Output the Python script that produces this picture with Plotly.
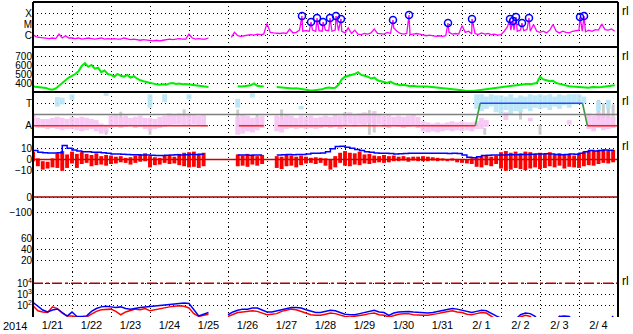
import pandas as pd
import plotly.graph_objects as go
from plotly.subplots import make_subplots

START = "2014-01-21 00:00"
END = "2014-02-05 00:00"

# ---------------- data ----------------
xray_log10 = [
    -5.9, -6.1, -6.15, -6.2, -6.2, -6.25, -6.2, -6.25, -5.85, -6.2, -6.0, -6.2,
    -6.2, -6.25, -6.2, -6.3, -6.25, -6.2, -6.25, -6.3, -6.25, -6.2, -6.3, -6.25,
    -6.3, -6.25, -6.3, -6.3, -6.2, -6.3, -6.35, -6.3, -6.35, -6.4, -6.35, -6.4,
    -6.4, -6.45, -6.4, -6.45, -6.4, -6.35, -6.3, -6.35, -6.3, -6.25, -6.3, -6.3,
    -5.85, -6.2, -6.3, -6.25, -6.3, -6.3, -6.2, None, None, None, None, None,
    None, -6.15, -5.7, -6.0, -6.05, -6.0, -5.95, -5.9, -5.95, -5.85, -5.9, -5.85,
    -4.9, -5.7, -5.75, -5.8, -5.8, -5.75, -5.8, -5.4, -5.75, -5.7, -5.5, -5.6,
    -5.55, -5.6, -5.5, -5.6, -5.55, -5.6, -5.5, -5.55, -5.6, -5.5, -5.55, -5.6,
    -5.75, -5.3, -5.8, -5.5, -5.85, -5.9, -5.8, -5.85, -5.75, -5.4, -5.8, -5.85,
    -5.85, -5.7, -5.8, -5.3, -5.6, -5.8, -5.85, -5.8, -5.9, -5.85, -5.8, -5.85,
    -5.9, -6.0, -5.95, -6.0, -6.05, -6.0, -6.05, -6.0, -5.7, -5.85, -5.8, -5.85,
    -5.1, -5.7, -5.6, -5.85, -5.8, -5.9, -5.75, -5.85, -5.8, -5.9, -5.85, -5.95,
    -5.9, -5.6, -5.2, -5.5, -5.5, -5.6, -5.5, -5.55, -5.45, -5.6, -5.0, -5.6,
    -5.7, -5.6, -5.75, -5.5, -5.0, -5.6, -5.75, -5.6, -5.7, -5.75, -5.6, -5.55,
    -5.5, -5.6, -5.65, -5.5, -5.6, -5.45, -5.5, -4.95, -5.45, -5.5, -5.4, -5.6,
]
flare_times = [
    "2014-01-27 21:32", "2014-01-28 03:05", "2014-01-28 06:46", "2014-01-28 10:28",
    "2014-01-28 14:46", "2014-01-28 18:28", "2014-01-28 21:32", "2014-01-30 05:32",
    "2014-01-30 15:23", "2014-01-31 15:23", "2014-02-01 06:09", "2014-02-02 05:32",
    "2014-02-02 07:23", "2014-02-02 09:14", "2014-02-02 12:55", "2014-02-02 17:14",
    "2014-02-04 00:37", "2014-02-04 03:05",
]
flare_log10 = [-4.24, -4.78, -4.42, -4.78, -4.42, -4.24, -4.51, -4.6, -4.16,
               -4.87, -4.51, -4.51, -4.69, -4.33, -4.87, -4.42, -4.33, -4.24]

speed = [
    360, 355, 358, 350, 345, 330, 325, 340, 370, 400, 435, 460,
    480, 500, 530, 590, 620, 580, 600, 560, 570, 520, 540, 500,
    490, 470, 500, 480, 470, 490, 460, 475, 450, 430, 420, 410,
    400, 390, 385, 380, 385, 380, 395, 400, 390, 395, 385, 390,
    385, 380, 375, 370, 365, 360, 355, None, None, None, None, None,
    None, None, None, 365, 360, 365, 370, 375, 395, 370, 365, 360,
    None, None, None, 355, 350, 345, 348, 340, 338, 342, 335, 330,
    325, 320, 318, 322, 320, 330, 345, 350, 345, 348, 380, 440,
    470, 480, 490, 500, 520, 490, 480, 470, 450, 460, 430, 420,
    410, 400, 415, 395, 385, 375, 380, 370, 365, 368, 360, 362,
    365, 360, 358, 355, 352, 348, 345, 340, 335, 330, 328, 325,
    320, 315, 312, 310, 315, 320, 325, 330, 335, 340, 345, 350,
    355, 360, 365, 370, 375, 372, 380, 385, 390, 385, 395, 400,
    470, 440, 430, 420, 425, 400, 390, 380, 370, 365, 360, 358,
    355, 350, 352, 348, 355, 350, 352, 355, 360, 358, 365, 375,
]

sector_times = ["2014-01-21 00:00", "2014-01-25 11:40", "2014-01-26 00:00",
                "2014-01-26 06:40", "2014-01-26 22:00", "2014-01-27 00:00",
                "2014-01-27 06:50", "2014-02-01 08:10", "2014-02-01 11:10",
                "2014-02-04 02:10", "2014-02-04 05:10", "2014-02-05 00:00"]
sector_vals = [-1, -1, None, -1, -1, None, -1, -1, 1, 1, -1, -1]

pink_lo = [
    -1.0, -1.2, -1.2, -1.3, -1.2, -1.3, -1.4, -1.3,
    -1.3, -1.4, -1.5, -1.4, -1.3, -1.5, -1.7, -1.6,
    -1.2, -1.1, -1.2, -1.1, -1.0, -1.2, -1.1, -1.3,
    -1.4, -1.3, -1.2, -1.1, -1.0, -0.9, -0.9, -1.0,
    -1.0, -0.9, -1.0, -1.1, None, None, None, None,
    None, None, -1.8, -1.7, -1.5, -1.6, -1.4, -1.2,
    None, None, -1.5, -1.6, -1.3, -1.2, -1.3, -1.2,
    -1.3, -1.2, -1.3, -1.2, -1.1, -1.2, -1.1, -1.3,
    -1.0, -0.9, -1.1, -0.9, -1.0, -0.8, -1.1, -0.9,
    -1.1, -1.2, -1.0, -1.1, -1.2, -1.1, -1.0, -1.2,
    -1.5, -1.6, -1.5, -1.6, -1.5, -1.4, -1.5, -1.4,
    -1.5, -1.4, -1.5, -1.3, -1.3, -1.1, None, None,
    None, -0.5, None, None, None, None, -0.6, None,
    None, None, None, None, None, None, -0.9, None,
    None, None, -1.3, -1.5, -1.2, -1.4, -1.3, -1.2,
]
pink_hi = [
    0.0, -0.3, -0.4, -0.4, -0.3, -0.2, -0.3, -0.4,
    -0.2, -0.3, -0.2, -0.3, -0.4, -0.5, -0.8, -0.9,
    -0.1, 0.0, -0.2, -0.1, -0.3, -0.2, -0.1, -0.3,
    -0.3, -0.4, -0.2, -0.1, 0.1, 0.0, 0.1, 0.0,
    0.1, 0.0, -0.1, 0.0, None, None, None, None,
    None, None, -0.2, 0.0, -0.1, -0.3, -0.2, -0.1,
    None, None, -0.1, -0.2, 0.0, -0.1, -0.3, -0.1,
    -0.2, -0.1, -0.3, -0.2, -0.1, -0.2, 0.0, -0.1,
    0.1, 0.2, 0.0, 0.1, 0.2, 0.1, 0.3, 0.0,
    -0.1, 0.0, -0.2, -0.1, -0.2, -0.1, 0.0, -0.2,
    -0.6, -0.7, -0.8, -0.7, -0.8, -0.7, -0.6, -0.7,
    -0.6, -0.7, -0.7, -0.6, -0.3, -0.5, None, None,
    None, 0.2, None, None, None, None, -0.3, None,
    None, None, None, None, None, None, -0.5, None,
    None, None, 0.1, -0.1, 0.2, 0.0, 0.1, -0.2,
]
lblue_times = [
    "2014-01-21 15:00", "2014-01-21 18:00", "2014-01-22 00:00", "2014-01-22 21:00",
    "2014-01-24 00:00", "2014-01-24 09:00", "2014-01-25 00:00", "2014-01-26 06:00",
    "2014-01-26 15:00", "2014-01-27 21:00",
    "2014-02-01 09:00", "2014-02-01 12:00", "2014-02-01 15:00", "2014-02-01 18:00",
    "2014-02-01 21:00",
    "2014-02-02 00:00", "2014-02-02 03:00", "2014-02-02 06:00", "2014-02-02 09:00",
    "2014-02-02 12:00", "2014-02-02 15:00", "2014-02-02 18:00", "2014-02-02 21:00",
    "2014-02-03 00:00", "2014-02-03 03:00", "2014-02-03 06:00", "2014-02-03 09:00",
    "2014-02-03 12:00", "2014-02-03 15:00", "2014-02-03 18:00", "2014-02-03 21:00",
    "2014-02-04 00:00", "2014-02-04 03:00", "2014-02-04 12:00", "2014-02-04 18:00",
]
lblue_lo = [0.7, 0.9, 1.3, 1.65, 0.6, 1.1, 1.35, 0.6, 1.5, 0.45,
            0.5, 0.3, 0.5, 0.7, 0.2,
            0.1, 0.4, 0.0, 0.3, 0.2, 0.5, 0.3, 0.6,
            0.5, 0.6, 0.4, 0.7, 0.5, 0.8, 0.6, 0.9,
            0.9, 1.0, 0.3, 0.5]
lblue_hi = [1.55, 1.5, 1.8, 1.95, 1.8, 1.8, 1.8, 1.4, 1.9, 0.75,
            1.8, 1.8, 1.6, 1.8, 1.7,
            1.7, 1.6, 1.8, 1.5, 1.7, 1.6, 1.8, 1.7,
            1.8, 1.7, 1.8, 1.6, 1.8, 1.7, 1.8, 1.8,
            1.8, 1.6, 1.2, 1.3]
grey_times = ["2014-01-22 21:00", "2014-01-23 06:00", "2014-01-24 00:00",
              "2014-01-24 21:00", "2014-01-26 06:00", "2014-01-26 18:00",
              "2014-01-27 09:00", "2014-01-29 00:00", "2014-01-29 15:00",
              "2014-01-29 18:00", "2014-02-01 14:00", "2014-02-02 12:00",
              "2014-02-03 00:00", "2014-02-04 12:00", "2014-02-04 15:00",
              "2014-02-04 18:00", "2014-02-04 21:00"]
grey_lo = [-1.8, -0.3, -1.8, -0.2, -0.9, -0.9, -0.5, -0.45, -1.8, -1.6,
           -1.8, -0.45, -1.8, -0.5, -0.3, -0.4, -0.2]
grey_hi = [-1.35, 0.25, -1.2, 0.45, 0.45, 0.0, 0.45, 0.2, 0.4, 0.3,
           -1.2, 0.3, -0.9, 1.3, 1.0, 1.2, 0.9]

bz_lo = [
    -1.5, -6.0, -9.0, -8.0, -7.0, -7.5, -10.0, -7.5,
    -3.5, -7.5, -4.0, -3.0, -6.0, -5.0, -4.5, -5.5,
    -4.0, -3.5, -2.5, -3.0, -4.5, -3.0, -2.0, -1.5,
    -7.0, -5.0, -4.5, -3.0, -4.0, -3.5, -5.0, -6.0,
    -7.0, -6.5, -7.5, -6.0, None, None, None, None,
    None, None, -6.0, -5.5, -6.5, -4.5, -5.5, -4.0,
    None, None, -7.5, -8.5, -6.0, -5.5, -7.0, -5.0,
    -3.5, -3.0, -4.0, -3.0, -5.5, -9.0, -7.0, -3.0,
    -5.5, -6.0, -4.5, -5.0, -3.5, -4.0, -3.0, -2.5,
    -3.0, -2.5, -1.5, -1.5, -1.0, -2.0, -1.0, -1.5,
    -1.5, -1.5, -1.0, -1.5, -1.0, -1.5, -1.0, -2.5,
    -3.0, -3.5, -4.0, -6.5, -7.0, -5.0, -6.0, -4.0,
    -8.0, -10.0, -9.0, -7.5, -8.5, -9.5, -8.0, -7.0,
    -8.5, -7.5, -6.0, -7.0, -5.5, -8.0, -6.5, -7.0,
    -7.5, -6.0, -5.0, -5.5, -4.0, -3.0, -3.5, -2.5,
]
bz_hi = [
    7.0, 1.0, -1.5, -2.0, 1.0, 5.5, 7.5, 4.5,
    7.0, 5.0, 6.5, 5.0, 4.0, 5.5, 3.0, 4.0,
    3.5, 2.5, 3.0, 1.5, 2.0, 3.5, 4.5, 5.5,
    3.0, 2.0, 1.5, 3.5, 4.0, 2.5, 5.0, 6.0,
    6.5, 7.0, 5.0, 6.0, None, None, None, None,
    None, None, 4.5, 3.5, 5.0, 4.0, 3.0, 4.0,
    None, None, 3.0, 2.5, 4.5, 3.5, 2.5, 3.5,
    2.5, 1.5, 2.0, 1.5, 1.0, 0.5, 3.0, 6.0,
    7.5, 6.0, 5.5, 7.0, 4.5, 5.0, 3.5, 3.0,
    4.0, 3.0, 3.5, 2.5, 3.0, 2.0, 2.5, 2.5,
    3.0, 2.5, 2.0, 1.5, 1.0, 0.5, 1.0, 0.5,
    0.5, 0.0, 1.0, 2.0, 3.0, 4.0, 2.5, 3.5,
    6.5, 7.5, 6.0, 7.0, 5.5, 7.0, 6.5, 5.0,
    6.0, 5.0, 6.5, 4.5, 5.5, 4.0, 5.0, 3.5,
    5.5, 7.0, 8.0, 7.5, 8.5, 9.0, 8.0, 8.5,
]
bt = [
    8.0, 6.5, 6.0, 5.8, 5.7, 6.0, 12.5, 10.0,
    8.5, 7.5, 7.0, 6.8, 6.5, 6.5, 6.0, 5.5,
    5.0, 4.8, 4.7, 4.5, 4.3, 4.2, 4.0, 4.0,
    3.8, 3.6, 3.5, 3.8, 4.0, 4.2, 4.0, 4.3,
    4.5, 4.5, 4.6, 4.4, None, None, None, None,
    None, None, 4.0, 4.0, 3.8, 4.0, 3.9, 3.9,
    None, None, 4.0, 4.2, 4.5, 4.3, 4.4, 4.5,
    5.0, 5.5, 5.6, 5.7, 7.0, 9.5, 11.5, 11.8,
    11.0, 10.0, 9.0, 8.0, 7.0, 6.5, 5.8, 5.6,
    5.5, 5.3, 5.0, 5.2, 5.4, 5.5, 5.6, 5.5,
    5.6, 5.6, 5.5, 5.6, 5.5, 5.4, 5.5, 5.3,
    4.0, 2.0, 1.5, 2.5, 3.5, 3.8, 4.0, 4.0,
    4.0, 4.2, 4.3, 4.2, 4.4, 4.5, 4.6, 4.8,
    5.0, 5.2, 5.0, 4.5, 4.2, 4.5, 4.8, 4.6,
    5.5, 7.0, 8.0, 7.5, 8.0, 8.5, 8.2, 9.0,
]

proton_blue_log10 = [
    2.3, 1.98, 1.62, 1.44, 1.62, 1.71, 1.36, 1.09,
    1.44, 1.05, 1.05, 1.1, 1.5, 1.75, 1.9, 1.95,
    1.9, 1.85, 1.9, 1.75, 1.7, 1.8, 1.85, 1.9,
    1.95, 1.95, 2.0, 2.05, 2.1, 2.15, 2.2, 2.25,
    2.2, 1.6, 1.1, 1.25, 1.4, None, None, None,
    1.2, 1.45, 1.6, 1.7, 1.7, 1.8, 1.8, 1.6,
    1.45, 1.45, 1.55, 1.65, 1.75, 1.85, 1.85, 1.8,
    1.65, 1.5, 1.4, 1.4, 1.5, 1.6, 1.55, 1.4,
    1.25, 1.2, 1.2, 1.3, 1.4, 1.55, 1.6, 1.45,
    1.4, 1.15, 1.35, 1.45, 1.5, 1.5, 1.45, 1.4,
    1.4, 1.35, 1.4, 1.5, 1.55, 1.7, 1.75, 1.7,
    1.6, 1.45, 1.4, 1.5, 1.6, 1.55, 1.3, 1.1,
    0.9, 0.5, 0.5, 0.8, 1.2, 1.35, 1.3, 1.05,
    0.5, 0.5, 0.5, 0.5, 1.05, 1.1, 1.05, 0.5,
    0.5, 0.5, 0.5, 0.5, 0.5, 0.5, 0.5, 1.1,
]
proton_red_log10 = [
    2.0, 1.55, 1.45, 1.4, 1.9, 1.75, 1.35, 1.1,
    1.1, 1.0, 1.0, 1.0, 1.25, 1.5, 1.65, 1.7,
    1.7, 1.5, 1.2, 1.45, 1.6, 1.7, 1.65, 1.75,
    1.55, 1.65, 1.75, 1.85, 1.9, 1.95, 2.0, 1.95,
    1.8, 1.3, 1.05, 1.15, 1.25, None, None, None,
    1.05, 1.25, 1.4, 1.45, 1.5, 1.55, 1.5, 1.35,
    1.2, 1.25, 1.3, 1.5, 1.6, 1.7, 1.65, 1.5,
    1.4, 1.2, 1.15, 1.15, 1.25, 1.35, 1.3, 1.15,
    1.05, 1.0, 1.05, 1.1, 1.2, 1.3, 1.35, 1.2,
    1.15, 1.0, 1.15, 1.25, 1.3, 1.3, 1.2, 1.15,
    1.15, 1.15, 1.2, 1.3, 1.4, 1.5, 1.55, 1.45,
    1.4, 1.25, 1.2, 1.3, 1.4, 1.35, 1.1, 0.9,
    0.5, 0.5, 0.5, 0.5, 1.0, 1.15, 1.05, 0.5,
    0.5, 0.5, 0.5, 0.5, 1.05, 0.5, 0.5, 0.5,
    0.5, 0.5, 0.5, 0.5, 0.5, 0.5, 0.5, 0.5,
]

# ---------------- figure ----------------
t2 = pd.date_range(START, periods=len(xray_log10), freq="2h")
t3 = pd.date_range(START, periods=len(bt), freq="3h")
H3 = 3 * 3600 * 1000

fig = make_subplots(rows=7, cols=1, shared_xaxes=True, vertical_spacing=0)

# make sure every panel (including the empty ones) is drawn
for r in range(1, 8):
    fig.add_trace(go.Scatter(x=[START, END], y=[None, None], mode="lines",
                             showlegend=False, hoverinfo="skip"), row=r, col=1)


def pw(v):
    return None if v is None else 10 ** v


def band(times, lo, hi, color, width, opacity, row):
    base = [l if (l is not None and h is not None) else None for l, h in zip(lo, hi)]
    hgt = [(h - l) if (l is not None and h is not None) else None for l, h in zip(lo, hi)]
    fig.add_trace(go.Bar(x=list(times), y=hgt, base=base, width=width,
                         marker=dict(color=color, line=dict(width=0)),
                         opacity=opacity, showlegend=False, hoverinfo="skip"),
                  row=row, col=1)


# Row 1: X-ray
xr = pd.concat([
    pd.DataFrame({"t": t2, "v": xray_log10}),
    pd.DataFrame({"t": pd.to_datetime(flare_times), "v": flare_log10}),
]).sort_values("t")
fig.add_trace(go.Scatter(x=xr["t"], y=[pw(v) if pd.notna(v) else None for v in xr["v"]],
                         mode="lines", line=dict(color="#ff00ff", width=1.3),
                         connectgaps=False, showlegend=False), row=1, col=1)
fig.add_trace(go.Scatter(x=pd.to_datetime(flare_times), y=[pw(v) for v in flare_log10],
                         mode="markers",
                         marker=dict(symbol="circle-open", size=7, color="#0000ff",
                                     line=dict(width=1.5, color="#0000ff")),
                         showlegend=False), row=1, col=1)

# Row 2: speed
fig.add_trace(go.Scatter(x=t2, y=speed, mode="lines",
                         line=dict(color="#00ee00", width=2), showlegend=False),
              row=2, col=1)

# Row 3: sector
band(pd.to_datetime(grey_times), grey_lo, grey_hi, "#c8c8c8", H3 * 0.6, 0.9, 3)
band(t3, pink_lo, pink_hi, "#f8c4f4", H3 * 1.0, 0.9, 3)
band(pd.to_datetime(lblue_times), lblue_lo, lblue_hi, "#b8e6f8", H3 * 1.0, 0.9, 3)
fig.add_hline(y=0, line=dict(color="#808080", width=1.3), row=3, col=1)
st = pd.to_datetime(sector_times)
for i in range(len(st) - 1):
    a, b = sector_vals[i], sector_vals[i + 1]
    if a is None or b is None:
        continue
    col = "#ff2020" if (a == -1 and b == -1) else ("#1e4cff" if (a == 1 and b == 1) else "#3c9a3c")
    fig.add_trace(go.Scatter(x=[st[i], st[i + 1]], y=[a, b], mode="lines",
                             line=dict(color=col, width=1.6), showlegend=False),
                  row=3, col=1)

# Row 4: IMF
band(t3, bz_lo, bz_hi, "#ff0000", H3 * 0.8, 1.0, 4)
fig.add_hline(y=0, line=dict(color="#d00000", width=1.3), row=4, col=1)
fig.add_trace(go.Scatter(x=t3, y=bt, mode="lines", line=dict(color="#0000ff", width=1.5, shape="hv"),
                         showlegend=False), row=4, col=1)

# Row 5: Dst reference line
fig.add_hline(y=0, line=dict(color="#a00000", width=1.5), row=5, col=1)

# Row 7: protons
fig.add_hline(y=1e4, line=dict(color="#b00000", width=1.5, dash="10px,3px,3px,3px"), row=7, col=1)
fig.add_trace(go.Scatter(x=t3, y=[pw(v) for v in proton_red_log10], mode="lines",
                         line=dict(color="#ff0000", width=1.5), showlegend=False), row=7, col=1)
fig.add_trace(go.Scatter(x=t3, y=[pw(v) for v in proton_blue_log10], mode="lines",
                         line=dict(color="#0000ff", width=1.5), showlegend=False), row=7, col=1)

# ---------------- axes ----------------
FONT = dict(family="Liberation Sans, Arial, sans-serif", size=10, color="black")
GRID = dict(showgrid=True, gridcolor="black", griddash="1px,3px", gridwidth=1,
            zeroline=False, ticks="", showline=False, tickfont=FONT, automargin=False)

fig.update_xaxes(range=[START, END], tick0=START, dtick=86400000, **GRID)
fig.update_xaxes(showticklabels=True, tickformat="%-m/%e", ticklabelmode="period",
                 tickfont=dict(family=FONT["family"], size=11, color="black"), row=7, col=1)

fig.update_yaxes(type="log", range=[-7, -3], tickvals=[1e-6, 1e-5, 1e-4],
                 ticktext=["C", "M", "X"], row=1, col=1, **GRID)
fig.update_yaxes(range=[300, 800], tickvals=[400, 500, 600, 700], row=2, col=1, **GRID)
fig.update_yaxes(range=[-2, 2], tickvals=[-1, 1], ticktext=["A", "T"], row=3, col=1, **GRID)
fig.update_yaxes(range=[-20, 20], tickvals=[-10, 0, 10], row=4, col=1, **GRID)
fig.update_yaxes(range=[-200, 100], tickvals=[-100, 0], row=5, col=1, **GRID)
fig.update_yaxes(range=[0, 80], tickvals=[20, 40, 60], row=6, col=1, **GRID)
fig.update_yaxes(type="log", range=[1, 5], tickvals=[100, 1000, 10000],
                 ticktext=["10<sup>2</sup>", "10<sup>3</sup>", "10<sup>4</sup>"],
                 row=7, col=1, **GRID)

shapes = []
for k in range(8):
    shapes.append(dict(type="line", xref="paper", yref="paper", x0=0, x1=1, y0=k / 7, y1=k / 7,
                       line=dict(color="black", width=2)))
for xx in (0, 1):
    shapes.append(dict(type="line", xref="paper", yref="paper", x0=xx, x1=xx, y0=0, y1=1,
                       line=dict(color="black", width=2)))

annotations = [dict(text="2014", xref="paper", yref="paper", x=0, y=0, xanchor="right",
                    yanchor="top", xshift=-4, yshift=-1, showarrow=False,
                    font=dict(family=FONT["family"], size=11, color="black"))]
for r in (1, 2, 3, 4, 7):
    annotations.append(dict(text="rl", xref="paper", yref="paper", x=1, y=1 - (r - 1) / 7,
                            xanchor="left", yanchor="middle", xshift=2, yshift=-9,
                            showarrow=False, font=dict(family=FONT["family"], size=12, color="black")))

fig.update_layout(
    width=633, height=334,
    margin=dict(l=33, r=15, t=2, b=17),
    paper_bgcolor="white", plot_bgcolor="white",
    barmode="overlay", showlegend=False,
    shapes=shapes, annotations=annotations,
    font=FONT,
)

fig.write_html("out.html")
